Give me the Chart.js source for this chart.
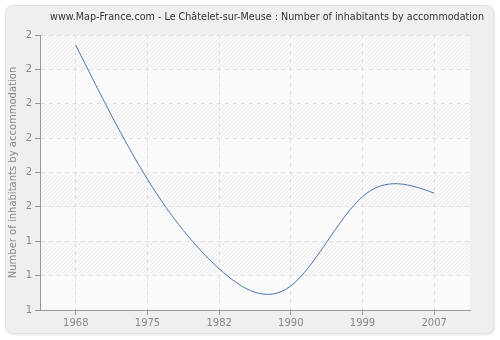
<!DOCTYPE html>
<html lang="en">
<head>
    <meta charset="UTF-8">
    <title>Number of inhabitants by accommodation</title>
    <style>
        body {
            margin: 0;
            padding: 0;
            background-color: #ffffff;
        }

        #chart {
            display: block;
        }
    </style>
    <script src="https://cdn.jsdelivr.net/npm/chart.js"></script>
</head>
<body>
    <canvas id="chart" width="500" height="340"></canvas>

    <script>
        // data
        const years = ['1968', '1975', '1982', '1990', '1999', '2007'];
        const inhabitants = [1.97, 1.58, 1.32, 1.27, 1.53, 1.54];
        const yTicks = [1.2, 1.3, 1.4, 1.5, 1.6, 1.7, 1.8, 1.9, 2.0];

        const chartTitle = 'www.Map-France.com - Le Châtelet-sur-Meuse : Number of inhabitants by accommodation';
        const yTitle = 'Number of inhabitants by accommodation';
        const fontName = '"DejaVu Sans", Verdana, sans-serif';

        // grey panel, striped plot background and title
        const backdrop = {
            id: 'backdrop',
            beforeDraw(chart) {
                const ctx = chart.ctx;
                const area = chart.chartArea;
                const y = chart.scales.y;

                ctx.save();
                ctx.shadowColor = 'rgba(0,0,0,0.12)';
                ctx.shadowBlur = 3;
                ctx.shadowOffsetX = 1;
                ctx.shadowOffsetY = 1;
                ctx.fillStyle = '#efefef';
                ctx.beginPath();
                ctx.roundRect(5.5, 5.5, 488, 328, 7);
                ctx.fill();
                ctx.shadowColor = 'transparent';
                ctx.strokeStyle = '#e2e2e2';
                ctx.lineWidth = 1;
                ctx.stroke();

                ctx.fillStyle = '#fafafa';
                ctx.fillRect(area.left, area.top, area.right - area.left, area.bottom - area.top);

                // hatched bands, every second one from the top
                ctx.strokeStyle = '#ebebeb';
                ctx.lineWidth = 1;
                for (let i = yTicks.length - 1; i > 0; i -= 2) {
                    const top = y.getPixelForValue(yTicks[i]);
                    const bottom = y.getPixelForValue(yTicks[i - 1]);
                    ctx.save();
                    ctx.beginPath();
                    ctx.rect(area.left, top, area.right - area.left, bottom - top);
                    ctx.clip();
                    ctx.beginPath();
                    for (let x = area.left - 60; x < area.right + 60; x += 4) {
                        ctx.moveTo(x, bottom);
                        ctx.lineTo(x + (bottom - top), top);
                    }
                    ctx.stroke();
                    ctx.restore();
                }

                ctx.fillStyle = '#333333';
                ctx.font = '9.6px ' + fontName;
                ctx.textAlign = 'center';
                ctx.textBaseline = 'middle';
                ctx.fillText(chartTitle, 267, 17);
                ctx.restore();
            }
        };

        // the original curve is a natural cubic spline, so swap in its bezier handles
        const naturalSpline = {
            id: 'naturalSpline',
            beforeDatasetDraw(chart, args) {
                const line = args.meta.dataset;
                const pts = args.meta.data;
                const n = pts.length;
                if (n < 3) return;
                const xs = pts.map(p => p.x);
                const ys = pts.map(p => p.y);
                const h = [];
                for (let i = 0; i < n - 1; i++) h[i] = xs[i + 1] - xs[i];

                // tridiagonal solve for second derivatives (ends = 0)
                const M = new Array(n).fill(0);
                const cp = [], dp = [];
                for (let i = 1; i < n - 1; i++) {
                    const a = h[i - 1], b = 2 * (h[i - 1] + h[i]), c = h[i];
                    const d = 6 * ((ys[i + 1] - ys[i]) / h[i] - (ys[i] - ys[i - 1]) / h[i - 1]);
                    const prevC = i > 1 ? cp[i - 1] : 0;
                    const prevD = i > 1 ? dp[i - 1] : 0;
                    const den = b - a * prevC;
                    cp[i] = c / den;
                    dp[i] = (d - a * prevD) / den;
                }
                for (let i = n - 2; i >= 1; i--) {
                    M[i] = dp[i] - cp[i] * (i < n - 2 ? M[i + 1] : 0);
                }

                for (let i = 0; i < n - 1; i++) {
                    const slope = (ys[i + 1] - ys[i]) / h[i];
                    const d0 = slope - h[i] * (2 * M[i] + M[i + 1]) / 6;
                    const d1 = slope + h[i] * (M[i] + 2 * M[i + 1]) / 6;
                    pts[i].cp2x = xs[i] + h[i] / 3;
                    pts[i].cp2y = ys[i] + d0 * h[i] / 3;
                    pts[i + 1].cp1x = xs[i + 1] - h[i] / 3;
                    pts[i + 1].cp1y = ys[i + 1] - d1 * h[i] / 3;
                }
                line._pointsUpdated = true;
                line._path = undefined;
            }
        };

        new Chart(document.getElementById('chart'), {
            type: 'line',
            data: {
                labels: years,
                datasets: [{
                    data: inhabitants,
                    borderColor: '#4f76ac',
                    borderWidth: 1,
                    pointRadius: 0,
                    tension: 0.4,
                    fill: false
                }]
            },
            options: {
                responsive: false,
                animation: false,
                layout: {
                    padding: { left: 7, right: 30, top: 35, bottom: 10 }
                },
                plugins: {
                    legend: { display: false },
                    tooltip: { enabled: false }
                },
                scales: {
                    x: {
                        offset: true,
                        afterFit: s => { s.height = 20; },
                        grid: {
                            offset: false,
                            color: '#e0e0e0',
                            tickColor: '#999999',
                            tickLength: 5
                        },
                        border: { color: '#999999', dash: [4, 4] },
                        ticks: {
                            color: '#888888',
                            font: { family: fontName, size: 10 },
                            padding: 2,
                            maxRotation: 0
                        }
                    },
                    y: {
                        min: yTicks[0],
                        max: yTicks[yTicks.length - 1],
                        afterFit: s => { s.width = 33; },
                        afterBuildTicks: s => { s.ticks = yTicks.map(v => ({ value: v })); },
                        grid: {
                            color: '#e0e0e0',
                            tickColor: '#999999',
                            tickLength: 5
                        },
                        border: { color: '#999999', dash: [4, 4] },
                        title: {
                            display: true,
                            text: yTitle,
                            color: '#888888',
                            font: { family: fontName, size: 10 },
                            padding: 0
                        },
                        ticks: {
                            color: '#888888',
                            font: { family: fontName, size: 10 },
                            padding: 3,
                            callback: v => Math.round(v)
                        }
                    }
                }
            },
            plugins: [backdrop, naturalSpline]
        });
    </script>
</body>
</html>
